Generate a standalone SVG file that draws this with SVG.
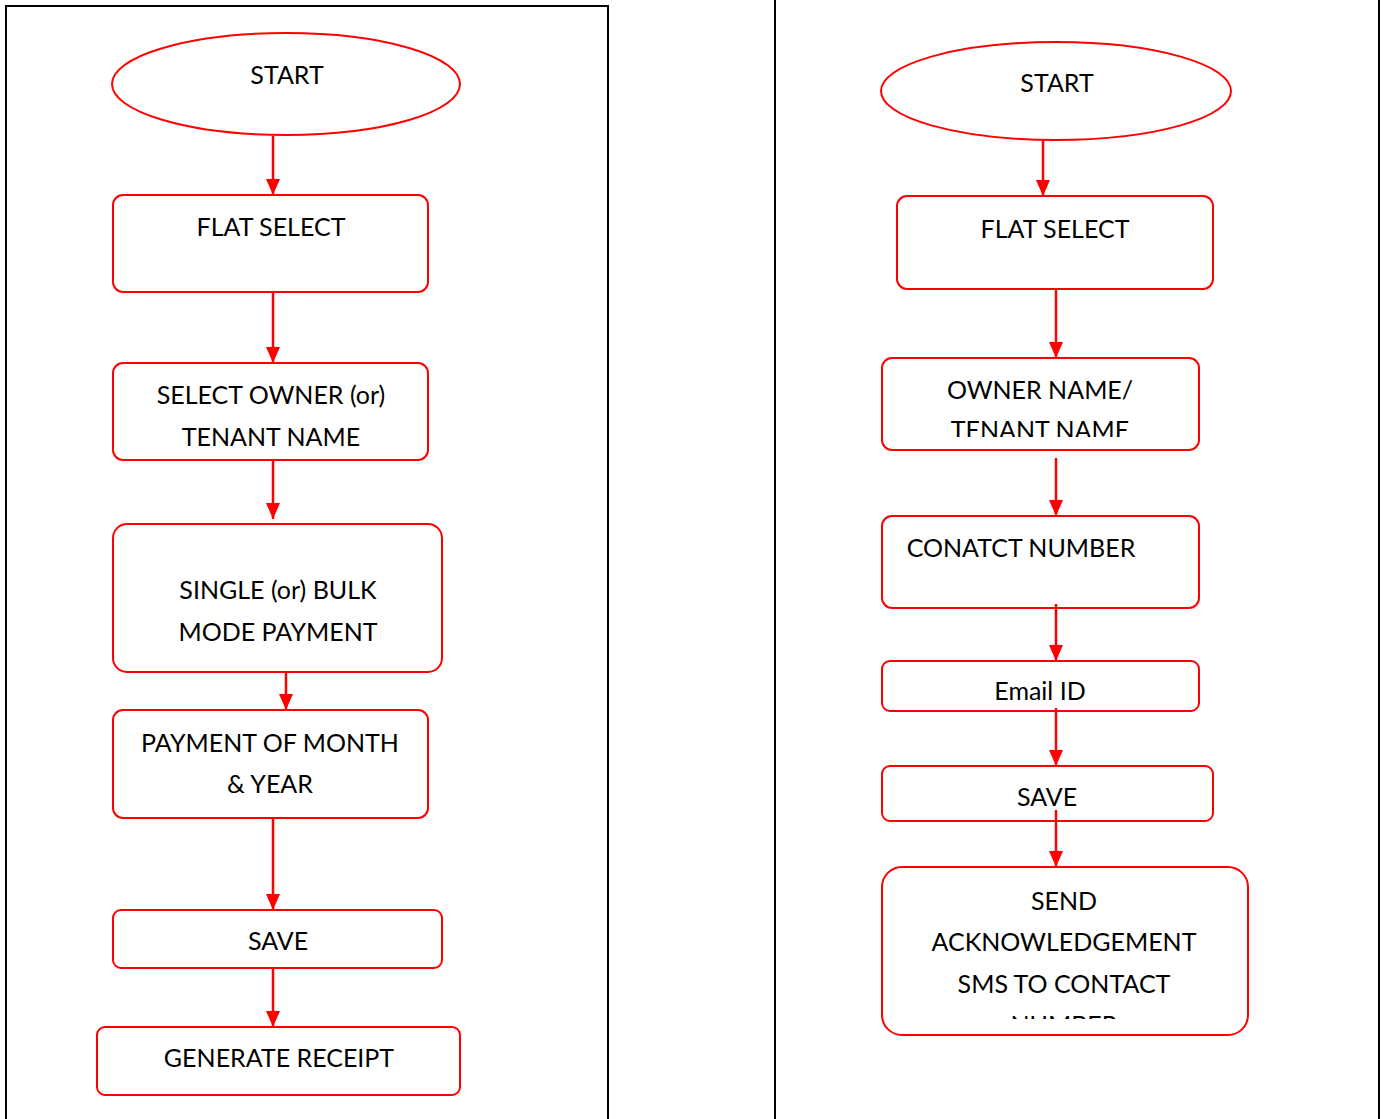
<svg xmlns="http://www.w3.org/2000/svg" width="1383" height="1119" viewBox="0 0 1383 1119">
<style>
.frame{fill:none;stroke:#000;stroke-width:2}
.n{fill:#fff;stroke:#ff0000;stroke-width:2}
.t{font-family:Lato,"Open Sans",sans-serif;font-size:25px;fill:#000;text-anchor:middle}
.c{stroke:#ff0000;stroke-width:2.5;fill:none;marker-end:url(#ah)}
</style>
<defs>
<marker id="ah" markerWidth="16" markerHeight="14" refX="16" refY="7" orient="auto" markerUnits="userSpaceOnUse" viewBox="0 0 16 14">
<path d="M0,0 L16,7 L0,14 Z" fill="#ff0000"/>
</marker>
<clipPath id="cp1"><rect x="882" y="358" width="318" height="79"/></clipPath>
<clipPath id="cp2"><rect x="882" y="661" width="318" height="39"/></clipPath>
<clipPath id="cp3"><rect x="882" y="867" width="367" height="152"/></clipPath>
</defs>
<rect x="6" y="6" width="602" height="1125" class="frame"/>
<path d="M775,-5 V1125 M1379,-5 V1125" class="frame"/>
<g id="connectors">
<path class="c" d="M273,136 V195"/>
<path class="c" d="M273,292 V363"/>
<path class="c" d="M273,460 V519"/>
<path class="c" d="M286,672 V710"/>
<path class="c" d="M273,818 V910"/>
<path class="c" d="M273,968 V1027"/>
<path class="c" d="M1043,140 V196"/>
<path class="c" d="M1056,289 V358"/>
<path class="c" d="M1056,458 V516"/>
</g>
<g id="l-start"><ellipse class="n" cx="286" cy="84" rx="174" ry="51"/><text class="t" x="287" y="84">START</text></g>
<g id="l-flat"><rect class="n" x="113" y="195" width="315" height="97" rx="10"/><text class="t" x="271" y="236">FLAT SELECT</text></g>
<g id="l-owner"><rect class="n" x="113" y="363" width="315" height="97" rx="10"/><text class="t" x="271" y="404">SELECT OWNER (or)</text><text class="t" x="271" y="446">TENANT NAME</text></g>
<g id="l-mode"><rect class="n" x="113" y="524" width="329" height="148" rx="14"/><text class="t" x="278" y="599">SINGLE (or) BULK</text><text class="t" x="278" y="641">MODE PAYMENT</text></g>
<g id="l-month"><rect class="n" x="113" y="710" width="315" height="108" rx="10"/><text class="t" x="270" y="752">PAYMENT OF MONTH</text><text class="t" x="270" y="793">&amp; YEAR</text></g>
<g id="l-save"><rect class="n" x="113" y="910" width="329" height="58" rx="8"/><text class="t" x="278" y="950">SAVE</text></g>
<g id="l-receipt"><rect class="n" x="97" y="1027" width="363" height="68" rx="8"/><text class="t" x="279" y="1067">GENERATE RECEIPT</text></g>
<g id="r-start"><ellipse class="n" cx="1056" cy="91" rx="175" ry="49"/><text class="t" x="1057" y="92">START</text></g>
<g id="r-flat"><rect class="n" x="897" y="196" width="316" height="93" rx="10"/><text class="t" x="1055" y="238">FLAT SELECT</text></g>
<g id="r-owner"><rect class="n" x="882" y="358" width="317" height="92" rx="10"/><g clip-path="url(#cp1)"><text class="t" x="1040" y="399">OWNER NAME/</text><text class="t" x="1040" y="439">TENANT NAME</text></g></g>
<g id="r-contact"><rect class="n" x="882" y="516" width="317" height="92" rx="10"/><text class="t" x="1021" y="557">CONATCT NUMBER</text></g>
<g id="r-email"><rect class="n" x="882" y="661" width="317" height="50" rx="8"/><g clip-path="url(#cp2)"><text class="t" x="1040" y="700">Email ID</text></g></g>
<g id="r-save"><rect class="n" x="882" y="766" width="331" height="55" rx="8"/><text class="t" x="1047" y="806">SAVE</text></g>
<g id="r-sms"><rect class="n" x="882" y="867" width="366" height="168" rx="20"/><g clip-path="url(#cp3)"><text class="t" x="1064" y="910">SEND</text><text class="t" x="1064" y="951">ACKNOWLEDGEMENT</text><text class="t" x="1064" y="993">SMS TO CONTACT</text><text class="t" x="1064" y="1034">NUMBER</text></g></g>
<g id="connectors-over">
<path class="c" d="M1056,604 V661"/>
<path class="c" d="M1056,708 V766"/>
<path class="c" d="M1056,810 V867"/>
</g>
</svg>
